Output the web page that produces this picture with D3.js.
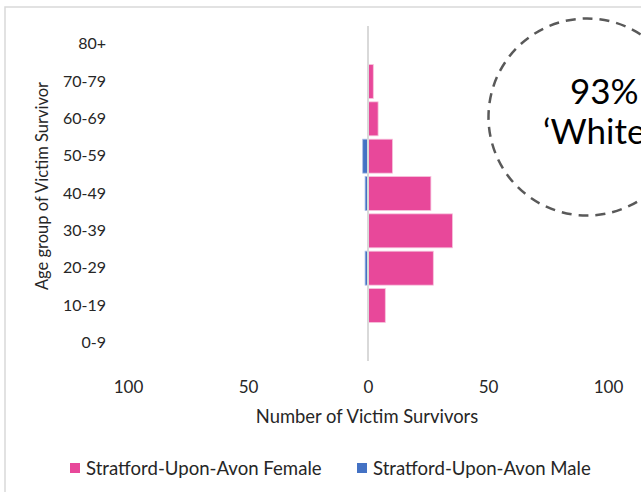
<!DOCTYPE html>
<html><head><meta charset="utf-8">
<script src="https://cdn.jsdelivr.net/npm/d3@7"></script>
<style>html,body{margin:0;padding:0;background:#fff;overflow:hidden}</style>
</head><body>
<svg id="c" width="641" height="492"></svg>
<script>
const categories = ["0-9","10-19","20-29","30-39","40-49","50-59","60-69","70-79","80+"];
const femaleValues = [0,7,27,35,26,10,4,2,0];
const maleValues = [0,0,1,0,1,2,0,0,0];
const xTicks = [-100,-50,0,50,100];
const seriesNames = ["Stratford-Upon-Avon Female","Stratford-Upon-Avon Male"];
const seriesColors = ["#E8489A","#4472C4"];
const annotationLines = ["93%","\u2018White British\u2019"];

const svg = d3.select("#c");
const font = "Lato, 'Open Sans', sans-serif";

// chart border
svg.append("rect").attr("x",5).attr("y",7).attr("width",700).attr("height",600)
  .attr("fill","none").attr("stroke","#d9d9d9").attr("stroke-width",1.5);

const x = d3.scaleLinear().domain([-100,100]).range([128,608]);
const y = d3.scaleBand().domain(categories.slice().reverse()).range([25.5,361.5]).paddingInner(0.09).paddingOuter(0.045);

// bars
const g = svg.append("g");
g.selectAll("rect.f").data(categories.map((c,i)=>({c,v:femaleValues[i]})).filter(d=>d.v>0))
  .enter().append("rect")
  .attr("x",x(0)+0.5).attr("y",d=>y(d.c)).attr("width",d=>x(d.v)-x(0)).attr("height",y.bandwidth())
  .attr("fill",seriesColors[0]).attr("stroke","#f7c3dc").attr("stroke-width",0.8);
g.selectAll("rect.m").data(categories.map((c,i)=>({c,v:maleValues[i]})).filter(d=>d.v>0))
  .enter().append("rect")
  .attr("x",d=>x(-d.v)-0.5).attr("y",d=>y(d.c)).attr("width",d=>x(0)-x(-d.v)).attr("height",y.bandwidth())
  .attr("fill",seriesColors[1]).attr("stroke","#a9bde6").attr("stroke-width",0.8);

// zero line
svg.append("line").attr("x1",x(0)).attr("x2",x(0)).attr("y1",26).attr("y2",361)
  .attr("stroke","#d9d9d9").attr("stroke-width",2);

// y axis labels
const yAxis = d3.axisLeft(y).tickSize(0).tickPadding(0);
const ya = svg.append("g").attr("transform","translate(106,0)").call(yAxis);
ya.select(".domain").remove();
ya.selectAll("text").attr("font-family",font).attr("font-size",16).attr("fill","#262626");

// x axis labels
const xAxis = d3.axisBottom(x).tickValues(xTicks).tickFormat(d=>Math.abs(d)).tickSize(0).tickPadding(0);
const xa = svg.append("g").attr("transform","translate(0,381)").call(xAxis);
xa.select(".domain").remove();
xa.selectAll("text").attr("font-family",font).attr("font-size",17).attr("fill","#262626");

// axis titles
svg.append("text").attr("x",x(0)-1).attr("y",423).attr("text-anchor","middle")
  .attr("font-family",font).attr("font-size",18.4).attr("fill","#262626").text("Number of Victim Survivors");
svg.append("text").attr("transform","translate(48,186) rotate(-90)").attr("text-anchor","middle")
  .attr("font-family",font).attr("font-size",16.5).attr("fill","#262626").text("Age group of Victim Survivor");

// legend
const legX = [70,357];
seriesNames.forEach((n,i)=>{
  svg.append("rect").attr("x",legX[i]).attr("y",463).attr("width",10).attr("height",10).attr("fill",seriesColors[i]);
  svg.append("text").attr("x",legX[i]+16).attr("y",475).attr("font-family",font).attr("font-size",18.6)
    .attr("fill","#262626").text(n);
});

// annotation circle
svg.append("circle").attr("cx",587).attr("cy",117).attr("r",98.5).attr("fill","none")
  .attr("stroke","#595959").attr("stroke-width",2.5).attr("stroke-dasharray","10,7");
svg.append("text").attr("x",570).attr("y",104).attr("font-family",font).attr("font-size",35).attr("fill","#000").text(annotationLines[0]);
svg.append("text").attr("x",543).attr("y",144).attr("font-family",font).attr("font-size",35).attr("fill","#000").text(annotationLines[1]);
</script>
</body></html>
